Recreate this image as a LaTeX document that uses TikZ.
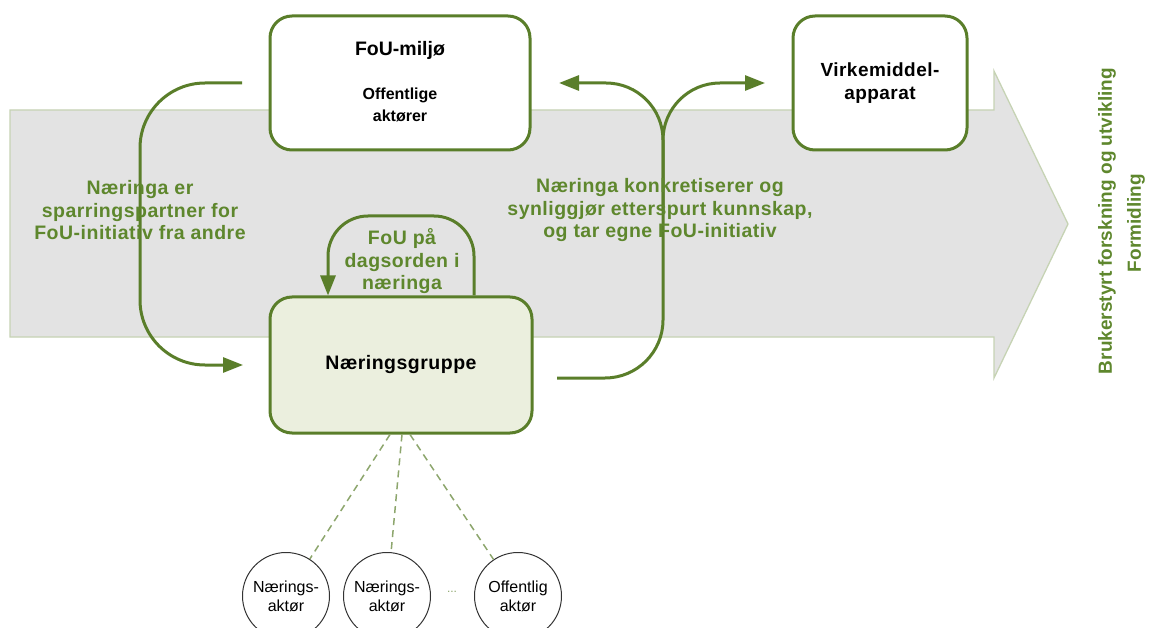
\documentclass[tikz,border=0pt]{standalone}
\usepackage{fontspec}
\setmainfont{Liberation Sans}
\newfontfamily\lspfont[LetterSpace=2.5]{Liberation Sans}
\usetikzlibrary{arrows.meta,calc}
\definecolor{linegreen}{RGB}{90,126,42}
\definecolor{textgreen}{RGB}{94,135,45}
\definecolor{ngfill}{RGB}{235,239,222}
\definecolor{arrowgray}{RGB}{227,227,227}
\definecolor{arrowedge}{RGB}{198,211,180}
\definecolor{dashgreen}{RGB}{141,166,109}
\tikzset{
  box/.style={draw=linegreen, line width=3pt, rounded corners=22pt, fill=white, inner sep=0pt},
  actor/.style={circle, draw=black!80, line width=1pt, fill=white, minimum size=87pt, inner sep=0pt, align=center, font=\fontsize{16}{19}\selectfont},
  conn/.style={draw=linegreen, line width=3pt},
  tip/.style={-{Triangle[length=20pt,width=15pt]}},
  glabel/.style={text=textgreen, align=center, font=\lspfont\bfseries\fontsize{19.5}{22.5}\selectfont},
  vlabel/.style={text=textgreen, align=center, font=\bfseries\fontsize{19}{22}\selectfont},
  blabel/.style={text=black, align=center},
  dashline/.style={draw=dashgreen, line width=1.5pt, dash pattern=on 7pt off 5pt}
}
\begin{document}
\begin{tikzpicture}[x=1pt,y=-1pt]
\useasboundingbox (0,0) rectangle (1175,628);
% big gray arrow
\draw[fill=arrowgray, draw=arrowedge, line width=1.3pt]
  (10,110) -- (994,110) -- (994,71) -- (1068,224) -- (994,378) -- (994,337) -- (10,337) -- cycle;

% boxes
\node[box, minimum width=260pt, minimum height=134pt] (fou) at (400,83) {};
\node[blabel, font=\bfseries\fontsize{19.5}{22.5}\selectfont] (foutitle) at (400,50) {FoU-milj\o};
\node[blabel, font=\bfseries\fontsize{16}{22}\selectfont] (fousub) at (400,105) {Offentlige\\akt\o rer};
\node[box, minimum width=174pt, minimum height=134pt, align=center, font=\lspfont\bfseries\fontsize{19}{23}\selectfont] (virk) at (880,83) {Virkemiddel-\\apparat};
\node[box, fill=ngfill, minimum width=262pt, minimum height=136pt, font=\lspfont\bfseries\fontsize{19.5}{22.5}\selectfont] (ng) at (401,365) {Næringsgruppe};

% actors
\node[actor] (c1) at (286,596) {Nærings-\\akt\o r};
\node[actor] (c2) at (387,596) {Nærings-\\akt\o r};
\node[actor] (c3) at (518,596) {Offentlig\\akt\o r};
\node[text=dashgreen, font=\fontsize{12}{14}\selectfont] (dots) at (452,592) {...};

\draw[dashline] ([xshift=-11pt]ng.south) -- (c1);
\draw[dashline] ([xshift=1pt]ng.south) -- (c2);
\draw[dashline] ([xshift=9pt]ng.south) -- (c3);

% left connector
\coordinate (lstart) at (242,83);
\coordinate (lend) at (243,365);
\draw[conn, tip, rounded corners=65pt] (lstart) -- (140,83) -- (140,365) -- (lend);

% right connector
\coordinate (rstart) at (557,378);
\coordinate (rsplit) at (663,210);
\coordinate (rleft) at (559,83);
\coordinate (rright) at (765,83);
\draw[conn, rounded corners=58pt] (rstart) -- (663,378) -- (rsplit);
\draw[conn, tip, rounded corners=57pt] (rsplit) -- (663,83) -- (rleft);
\draw[conn, tip, rounded corners=57pt] (rsplit) -- (663,83) -- (rright);

% FoU loop
\draw[conn, tip, rounded corners=40pt] ([xshift=73pt]ng.north) -- (474,216) -- (328,216) -- ([xshift=-73pt]ng.north);

% labels
\node[glabel] (llabel) at (140,210.5) {Næringa er\\sparringspartner for\\FoU-initiativ fra andre};
\node[glabel] (looplabel) at (402,261.5) {FoU på\\dagsorden i\\næringa};
\node[glabel] (rlabel) at (660,210.5) {Næringa konkretiserer og\\synliggj\o r etterspurt kunnskap,\\og tar egne FoU-initiativ};
\node[vlabel, rotate=90] (bfu) at (1107,221) {Brukerstyrt forskning og utvikling};
\node[vlabel, rotate=90] (form) at (1136,223) {Formidling};
\end{tikzpicture}
\end{document}
